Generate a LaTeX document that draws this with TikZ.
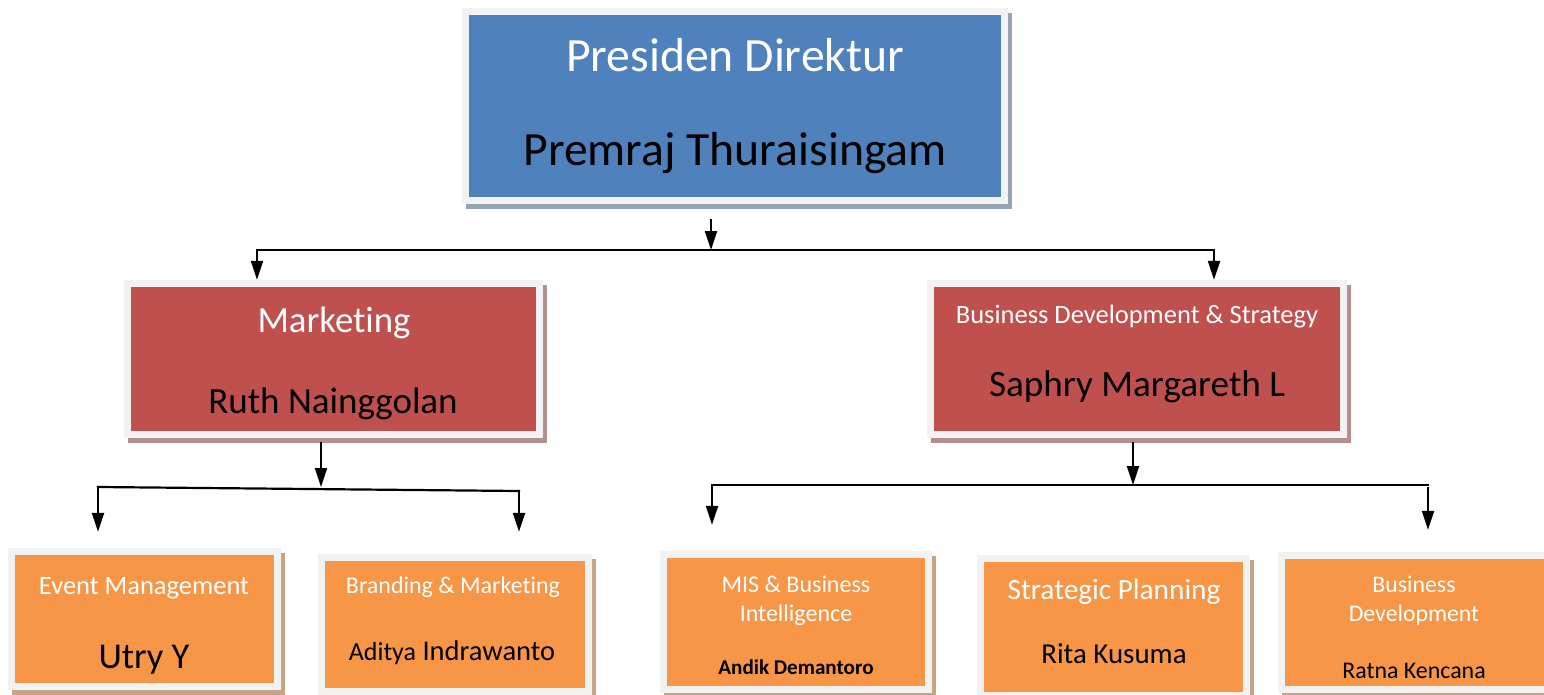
\documentclass[tikz,border=0pt]{standalone}
\usepackage{fontspec}
\setmainfont{Carlito}[Ligatures=NoCommon]
\usetikzlibrary{arrows.meta,shadows}
\definecolor{framegray}{RGB}{242,242,242}
\definecolor{topblue}{RGB}{79,129,189}
\definecolor{blueshadow}{RGB}{149,163,180}
\definecolor{mkred}{RGB}{192,80,77}
\definecolor{redshadow}{RGB}{181,143,142}
\definecolor{deptorange}{RGB}{247,150,70}
\definecolor{orangeshadow}{RGB}{200,164,134}
\newcommand{\boxfont}[1]{\fontsize{#1}{#1}\selectfont}

\begin{document}
\begin{tikzpicture}[x=1pt, y=-1pt,
  orgbox/.style 2 args={rectangle, inner sep=0pt, fill=framegray,
    general shadow={fill=#2, shadow xshift=4pt, shadow yshift=-5pt},
    path picture={\fill[#1] ([shift={(7pt,-7pt)}]path picture bounding box.north west)
      rectangle ([shift={(-7pt,7pt)}]path picture bounding box.south east);}},
  hd/.style={anchor=base, inner sep=0pt, text=white},
  nm/.style={anchor=base, inner sep=0pt, text=black},
  wire/.style={line width=2.2pt, black, line cap=rect},
  arr/.style={wire, -{Triangle[length=19pt,width=12pt]}}
]
  \useasboundingbox (0,0) rectangle (1544,695);
  \clip (0,0) rectangle (1544,695);

  % boxes
  \node[orgbox={topblue}{blueshadow}, minimum width=546pt, minimum height=196pt] (pd) at (735,106) {};
  \node[orgbox={mkred}{redshadow}, minimum width=419pt, minimum height=158pt] (mk) at (333.5,359) {};
  \node[orgbox={mkred}{redshadow}, minimum width=420pt, minimum height=158pt] (bds) at (1137,359) {};
  \node[orgbox={deptorange}{orangeshadow}, minimum width=273pt, minimum height=142pt] (ev) at (144.5,619) {};
  \node[orgbox={deptorange}{orangeshadow}, minimum width=274pt, minimum height=141pt] (ba) at (455,624.5) {};
  \node[orgbox={deptorange}{orangeshadow}, minimum width=272pt, minimum height=142pt] (mis) at (796,622) {};
  \node[orgbox={deptorange}{orangeshadow}, minimum width=273pt, minimum height=144pt] (sp) at (1113.5,627) {};
  \node[orgbox={deptorange}{orangeshadow}, minimum width=274pt, minimum height=141pt] (bdv) at (1415,622.5) {};

  % texts
  \node[hd, font=\boxfont{47.7}] (pdT) at (735,72) {Presiden Direktur};
  \node[nm, font=\boxfont{47.7}] (pdN) at (735,166) {Premraj Thuraisingam};
  \node[hd, font=\boxfont{36.8}] (mkT) at (334,332) {Marketing};
  \node[nm, font=\boxfont{37}] (mkN) at (333,413) {Ruth Nainggolan};
  \node[hd, font=\boxfont{26.5}] (bdsT) at (1137,323) {Business Development \& Strategy};
  \node[nm, font=\boxfont{37.2}] (bdsN) at (1137,396) {Saphry Margareth L};
  \node[hd, font=\boxfont{26.5}] (evT) at (144,594) {Event Management};
  \node[nm, font=\boxfont{36.4}] (evN) at (144,668) {Utry Y};
  \node[hd, font=\boxfont{24}] (baT) at (453,593) {Branding \& Marketing};
  \node[nm, font=\boxfont{28.5}] (baN) at (452,660) {{\boxfont{26}Aditya} Indrawanto};
  \node[hd, font=\boxfont{24}] (misT) at (796,592) {MIS \& Business};
  \node[hd, font=\boxfont{24}] (misT2) at (796,621) {Intelligence};
  \node[nm, font=\boxfont{21.1}\bfseries] (misN) at (796,674) {Andik Demantoro};
  \node[hd, font=\boxfont{29.3}] (spT) at (1114,599) {Strategic Planning};
  \node[nm, font=\boxfont{28.9}] (spN) at (1114,663) {Rita Kusuma};
  \node[hd, font=\boxfont{23.8}] (bdvT) at (1414,592) {Business};
  \node[hd, font=\boxfont{23.8}] (bdvT2) at (1414,621) {Development};
  \node[nm, font=\boxfont{23.9}] (bdvN) at (1414,678) {Ratna Kencana};

  % connectors
  \coordinate (pdTap) at (711,250);
  \coordinate (pdL) at (257,250);
  \coordinate (pdR) at (1214,250);
  \draw[arr] ([yshift=-16pt]pd.south -| pdTap) -- (pdTap);
  \draw[wire] (pdL) -- (pdR);
  \draw[arr] (pdL) -- (pdL |- mk.north);
  \draw[arr] (pdR) -- (pdR |- bds.north);

  \coordinate (mkTap) at (321,487);
  \coordinate (mkL) at (98,487);
  \coordinate (mkR) at (519,491);
  \draw[arr] ([yshift=-5pt]mk.south -| mkTap) -- (mkTap);
  \draw[wire] (mkL) -- (mkR);
  \draw[arr] (mkL) -- ([yshift=16pt]ev.north -| mkL);
  \draw[arr] (mkR) -- ([yshift=22pt]ba.north -| mkR);

  \coordinate (bdsTap) at (1133,485);
  \coordinate (bdsL) at (712,485);
  \coordinate (bdsR) at (1428,485);
  \draw[arr] ([yshift=-5pt]bds.south -| bdsTap) -- (bdsTap);
  \draw[wire] (bdsL) -- (bdsR);
  \draw[arr] (bdsL) -- ([yshift=26pt]mis.north -| bdsL);
  \draw[arr] ([yshift=-3pt]bdsR) -- ([yshift=22pt]bdv.north -| bdsR);
\end{tikzpicture}
\end{document}
